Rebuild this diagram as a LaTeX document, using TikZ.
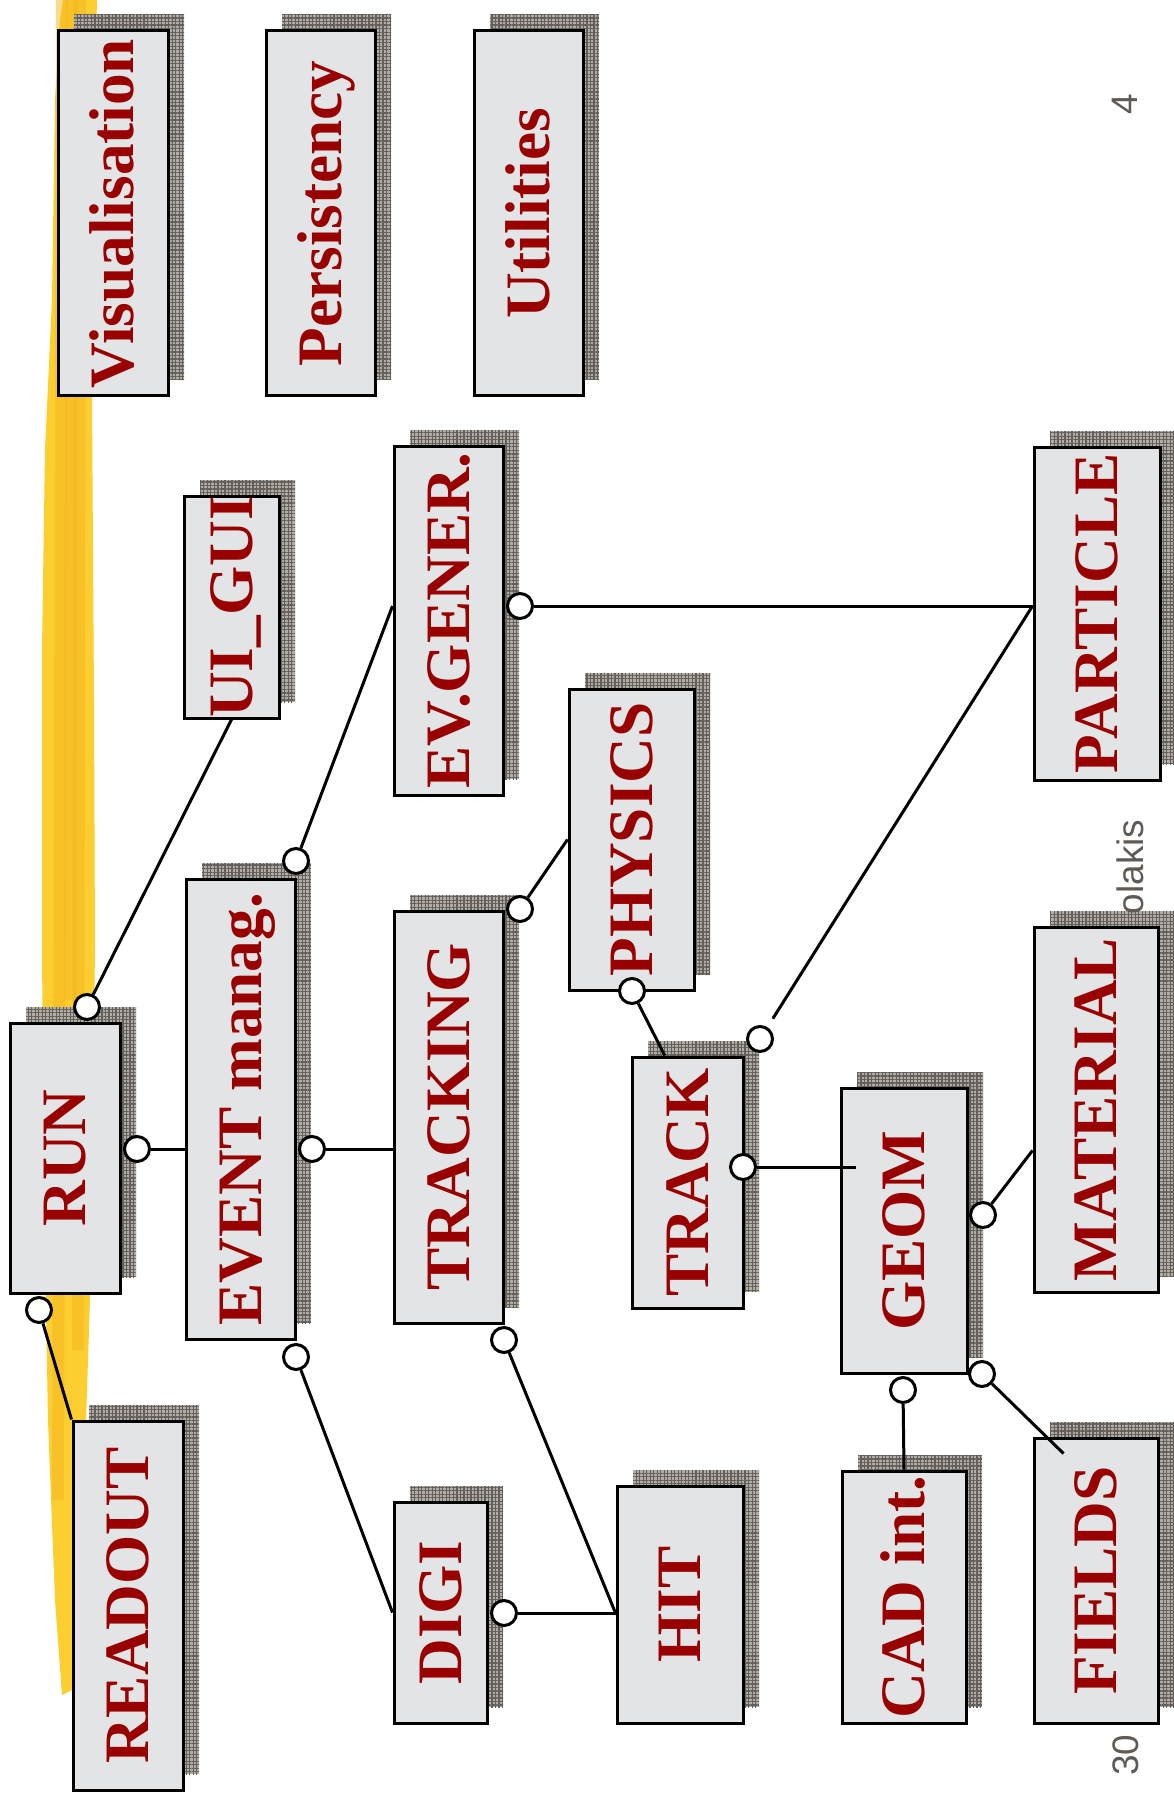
\documentclass[tikz,border=0pt]{standalone}
\usepackage{fontspec}
\setmainfont{Liberation Serif}
\newfontfamily\slidesans{Liberation Sans}
\usepackage{xcolor}
\usepackage{graphicx}
\usepackage{tikz}
\usetikzlibrary{shadows,patterns.meta,calc}

\definecolor{boxred}{RGB}{153,0,0}
\definecolor{marble}{RGB}{226,228,230}
\definecolor{hatchbg}{RGB}{176,172,166}
\definecolor{hatchline}{RGB}{100,95,90}
\definecolor{brushyellow}{RGB}{252,206,48}
\definecolor{brushorange}{RGB}{245,182,32}
\definecolor{pagegray}{RGB}{95,90,85}

\newcommand{\vtext}[1]{\rotatebox{90}{\raisebox{0pt}[0.66em][0pt]{#1}}}

\begin{document}
\begin{tikzpicture}[x=0.1mm, y=-0.1mm,
    box/.style={draw=black, line width=0.3mm, fill=marble, inner sep=0pt,
        text=boxred, font=\fontsize{18pt}{20pt}\selectfont\bfseries,
        general shadow={shadow xshift=1.6mm, shadow yshift=1.6mm, fill=hatchbg},
        general shadow={shadow xshift=1.6mm, shadow yshift=1.6mm,
            pattern={Hatch[distance=1pt, line width=0.35pt]}, pattern color=hatchline}},
    port/.style={circle, draw=black, fill=white, line width=0.3mm, minimum size=2.5mm, inner sep=0pt},
    link/.style={line width=0.3mm, black},
    pagenum/.style={text=pagegray, font=\slidesans\fontsize{10.5pt}{12pt}\selectfont, inner sep=0pt}]

    % Page
    \fill[white] (0,0) rectangle (1173,1800);
    \useasboundingbox (0,0) rectangle (1173,1800);

    % Yellow brush stroke
    \fill[brushyellow] (63,0) -- (97,0) -- (95,80) -- (92,400) -- (94,700) -- (95,950) -- (90,1300)
        -- (86,1420) -- (80,1580) -- (72,1690) -- (62,1695) -- (55,1600) -- (48,1420) -- (44,1200)
        -- (42,950) -- (42,650) -- (45,450) -- (52,300) -- (55,100) -- (60,20) -- cycle;
    \foreach \xa/\xb/\ya in {72/70/1000, 80/78/1350, 62/58/1500}
        \draw[brushorange, line width=1.2mm, opacity=0.5] (\xa,0) -- (\xb,\ya);

    % Packages
    \node[box, minimum width=11mm, minimum height=36.5mm] (vis) at (113,213.5) {\vtext{Visualisation}};
    \node[box, minimum width=10.9mm, minimum height=36.5mm] (pers) at (320.5,213.5) {\vtext{Persistency}};
    \node[box, minimum width=10.9mm, minimum height=36.5mm] (util) at (528.5,213.5) {\vtext{Utilities}};
    \node[box, minimum width=11mm, minimum height=27mm] (run) at (65,1158) {\vtext{RUN}};
    \node[box, minimum width=9.5mm, minimum height=22.2mm] (uigui) at (231.5,607) {\vtext{UI\_GUI}};
    \node[box, minimum width=10.9mm, minimum height=34.9mm] (evgen) at (448.5,620.5) {\vtext{EV.GENER.}};
    \node[box, minimum width=10.9mm, minimum height=46mm] (event) at (240.5,1109) {\vtext{EVENT manag.}};
    \node[box, minimum width=10.9mm, minimum height=41.2mm] (tracking) at (448.5,1117) {\vtext{TRACKING}};
    \node[box, minimum width=12.5mm, minimum height=30.1mm] (physics) at (631.5,839.5) {\vtext{PHYSICS}};
    \node[box, minimum width=11.1mm, minimum height=25.1mm] (track) at (687.5,1182.5) {\vtext{TRACK}};
    \node[box, minimum width=12.6mm, minimum height=28.5mm] (geom) at (904,1230.5) {\vtext{GEOM}};
    \node[box, minimum width=12.6mm, minimum height=33.3mm] (particle) at (1097,613.5) {\vtext{PARTICLE}};
    \node[box, minimum width=12.4mm, minimum height=36.5mm] (material) at (1096,1109.5) {\vtext{MATERIAL}};
    \node[box, minimum width=11mm, minimum height=36.9mm] (readout) at (128,1605.5) {\vtext{READOUT}};
    \node[box, minimum width=9.3mm, minimum height=22.1mm] (digi) at (440.5,1612.5) {\vtext{DIGI}};
    \node[box, minimum width=12.6mm, minimum height=23.7mm] (hit) at (680,1604.5) {\vtext{HIT}};
    \node[box, minimum width=12.4mm, minimum height=25.2mm] (cad) at (904,1597) {\vtext{CAD int.}};
    \node[box, minimum width=12.4mm, minimum height=28.5mm] (fields) at (1096,1580.5) {\vtext{FIELDS}};

    % Ports
    \node[port] (prun_t) at (87,1007) {};
    \node[port] (prun_r) at (137,1149) {};
    \node[port] (prun_b) at (39,1310) {};
    \node[port] (pev_t) at (296,861) {};
    \node[port] (pev_r) at (312,1149) {};
    \node[port] (pev_b) at (296,1357) {};
    \node[port] (pgen_r) at (520,606) {};
    \node[port] (ptrk_t) at (520,909) {};
    \node[port] (ptrk_b) at (504,1340) {};
    \node[port] (pdigi_r) at (504,1613) {};
    \node[port] (pphy_b) at (632,991) {};
    \node[port] (ptrack_t) at (760,1039) {};
    \node[port] (ptrack_r) at (743,1167) {};
    \node[port] (pgeom_r) at (983,1215) {};
    \node[port] (pgeom_b) at (903,1390) {};
    \node[port] (pgeom_br) at (982,1374) {};

    % Dependencies
    \draw[link] (prun_t) -- (uigui.south);
    \draw[link] (prun_r) -- (prun_r -| event.west);
    \draw[link] (prun_b) -- (readout.north west);
    \draw[link] (pev_t) -- (pgen_r -| evgen.west);
    \draw[link] (pev_r) -- (pev_r -| tracking.west);
    \draw[link] (pev_b) -- (digi.west);
    \draw[link] (pgen_r) -- (pgen_r -| particle.west);
    \draw[link] (ptrk_t) -- (physics.west);
    \draw[link] (ptrk_b) -- (pdigi_r -| hit.west);
    \draw[link] (pdigi_r) -- (pdigi_r -| hit.west);
    \draw[link] (pphy_b) -- ($(track.north west)!0.3!(track.north east)$);
    \draw[link, shorten <=1mm] (ptrack_t) -- (pgen_r -| particle.west);
    \draw[link, shorten >=-1.6mm] (ptrack_r) -- (ptrack_r -| geom.west);
    \draw[link] (pgeom_r) -- ($(material.west)+(0,41)$);
    \draw[link] (pgeom_b) -- (cad.north);
    \draw[link] (pgeom_br) -- ($(fields.north west)+(31,17)$);

    % Footer
    \node[pagenum] (pgno) at (1125,104) {\rotatebox{90}{4}};
    \node[pagenum] (author) at (1130,867) {\rotatebox{90}{olakis}};
    \node[pagenum] (slideno) at (1126,1755) {\rotatebox{90}{30}};

\end{tikzpicture}
\end{document}
